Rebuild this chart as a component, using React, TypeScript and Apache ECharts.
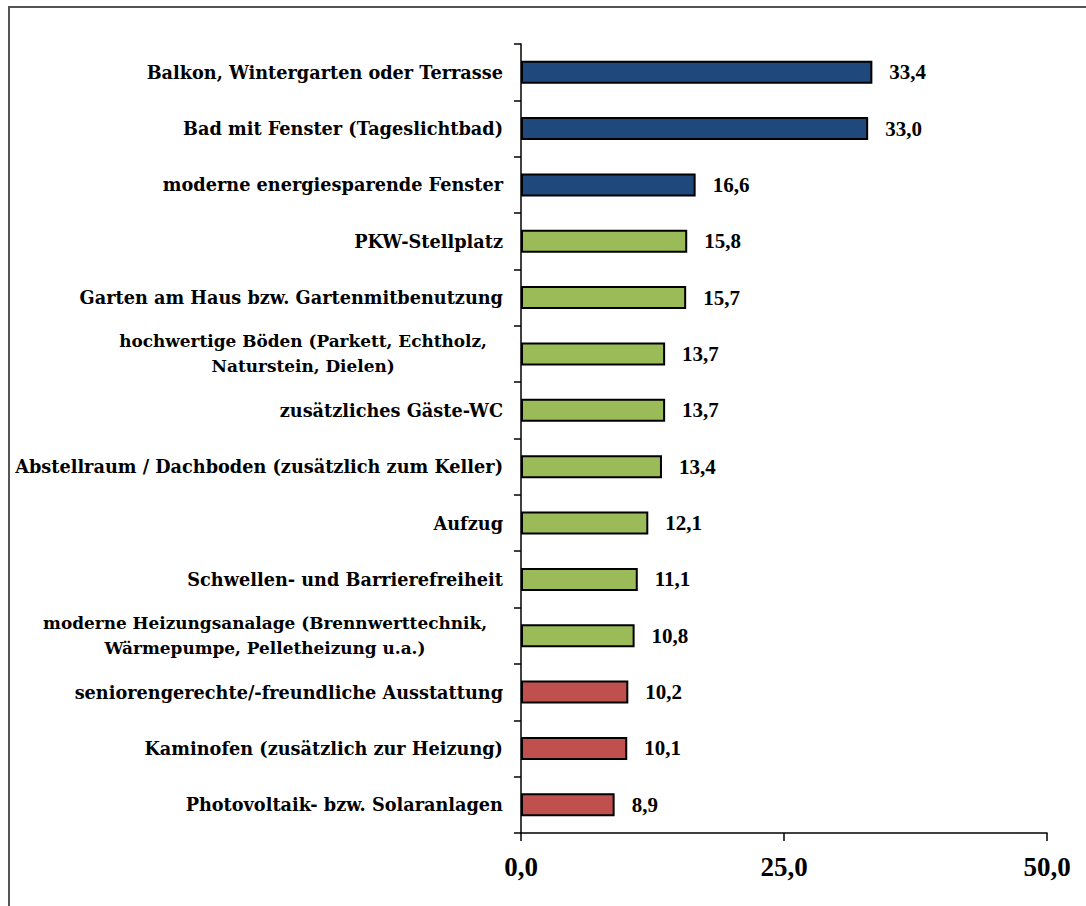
import React, { useEffect, useRef } from "react";
import * as echarts from "echarts";

const categories = [
  "Balkon, Wintergarten oder Terrasse",
  "Bad mit Fenster (Tageslichtbad)",
  "moderne energiesparende Fenster",
  "PKW-Stellplatz",
  "Garten am Haus bzw. Gartenmitbenutzung",
  "hochwertige Böden (Parkett, Echtholz,\nNaturstein, Dielen)",
  "zusätzliches Gäste-WC",
  "Abstellraum / Dachboden (zusätzlich zum Keller)",
  "Aufzug",
  "Schwellen- und Barrierefreiheit",
  "moderne Heizungsanalage (Brennwerttechnik,\nWärmepumpe, Pelletheizung u.a.)",
  "seniorengerechte/-freundliche Ausstattung",
  "Kaminofen (zusätzlich zur Heizung)",
  "Photovoltaik- bzw. Solaranlagen",
];
const values = [33.4, 33.0, 16.6, 15.8, 15.7, 13.7, 13.7, 13.4, 12.1, 11.1, 10.8, 10.2, 10.1, 8.9];
const groups = ["blue", "blue", "blue", "green", "green", "green", "green", "green", "green", "green", "green", "red", "red", "red"];
const xTicks = [0, 25, 50];

const COLORS: Record<string, string> = { blue: "#1F497D", green: "#9BBB59", red: "#C0504D" };
const CAT_FONT = "DejaVu Serif";
const NUM_FONT = "Liberation Serif";
const CAT_SIZE = 17.7;
const MULTI_SIZE = 16.9;

export default function App() {
  const ref = useRef<HTMLDivElement>(null);
  useEffect(() => {
    document.body.style.margin = "0";
    const chart = echarts.init(ref.current!, null, { renderer: "svg" });
    chart.setOption({
      animation: false,
      backgroundColor: "#fff",
      grid: { left: 521, right: 39, top: 44, bottom: 73, containLabel: false },
      xAxis: {
        type: "value",
        min: xTicks[0],
        max: xTicks[xTicks.length - 1],
        interval: 25,
        splitLine: { show: false },
        axisLine: { show: true, lineStyle: { color: "#000", width: 1.5 } },
        axisTick: { show: true, length: 8, lineStyle: { color: "#000", width: 1.5 } },
        axisLabel: {
          color: "#000",
          fontFamily: NUM_FONT,
          fontWeight: "bold",
          fontSize: 27,
          margin: 20,
          formatter: (v: number) => v.toFixed(1).replace(".", ","),
        },
      },
      yAxis: {
        type: "category",
        data: categories,
        inverse: true,
        axisLine: { show: true, lineStyle: { color: "#000", width: 1.5 } },
        axisTick: { show: true, length: 7, lineStyle: { color: "#000", width: 1.5 } },
        axisLabel: {
          color: "#000",
          fontFamily: CAT_FONT,
          fontWeight: "bold",
          fontSize: CAT_SIZE,
          margin: 18,
          align: "right",
          formatter: (v: string) =>
            v.includes("\n")
              ? v.split("\n").map((l) => `{m|${l}}`).join("\n")
              : `{s|${v}}`,
          rich: {
            s: { fontFamily: CAT_FONT, fontWeight: "bold", fontSize: CAT_SIZE, color: "#000" },
            m: {
              fontFamily: CAT_FONT,
              fontWeight: "bold",
              fontSize: MULTI_SIZE,
              color: "#000",
              align: "center",
              lineHeight: 25,
              padding: [0, 16, 0, 0],
            },
          },
        },
      },
      series: [
        {
          type: "bar",
          barWidth: 23,
          data: values.map((v, i) => ({
            value: v,
            itemStyle: { color: COLORS[groups[i]] },
          })),
          itemStyle: { borderColor: "#000", borderWidth: 2 },
          label: {
            show: true,
            position: "right",
            distance: 17,
            color: "#000",
            fontFamily: NUM_FONT,
            fontWeight: "bold",
            fontSize: 21,
            formatter: (p: any) => p.value.toFixed(1).replace(".", ","),
          },
        },
      ],
      graphic: [
        {
          type: "polyline",
          shape: { points: [[9, 906], [9, 7], [1086, 7]] },
          style: { stroke: "#555", lineWidth: 2, fill: "none" },
          silent: true,
        },
      ],
    });
    return () => chart.dispose();
  }, []);
  return <div ref={ref} style={{ width: 1086, height: 906 }} />;
}
